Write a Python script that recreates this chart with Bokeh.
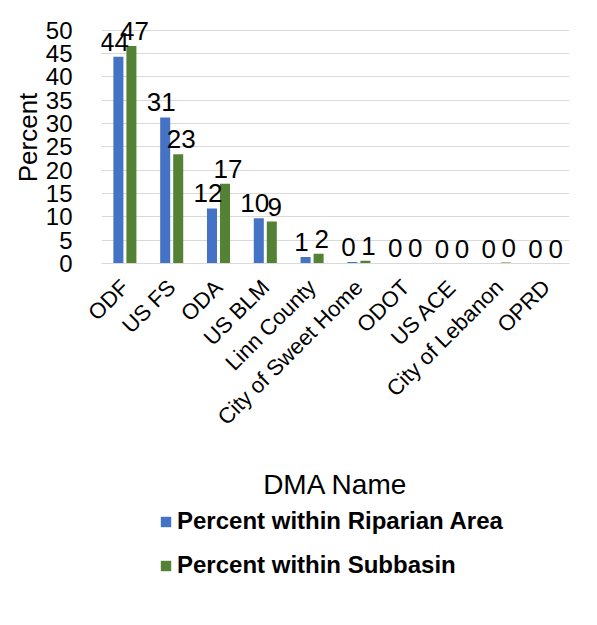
from bokeh.plotting import figure
from bokeh.models import ColumnDataSource, Range1d, FixedTicker, Legend, LegendItem
from bokeh.core.properties import value
from bokeh.transform import dodge
from bokeh.layouts import column
from bokeh.embed import file_html
from bokeh.resources import INLINE
from math import pi

categories = ["ODF", "US FS", "ODA", "US BLM", "Linn County", "City of Sweet Home",
              "ODOT", "US ACE", "City of Lebanon", "OPRD"]
riparian = [44.3, 31.3, 11.8, 9.7, 1.4, 0.3, 0.1, 0.0, 0.0, 0.0]
subbasin = [46.6, 23.4, 17.1, 9.0, 2.1, 0.6, 0.1, 0.0, 0.2, 0.0]
y_ticks = [0, 5, 10, 15, 20, 25, 30, 35, 40, 45, 50]
series_names = ["Percent within Riparian Area", "Percent within Subbasin"]

src = ColumnDataSource(dict(
    cat=categories, rip=riparian, sub=subbasin,
    rip_lbl=[f"{v:.0f}" for v in riparian],
    sub_lbl=[f"{v:.0f}" for v in subbasin],
))

FONT = "Liberation Sans"
BLUE = "#4472C4"
GREEN = "#548235"
W_LEFT, W_FRAME, W_RIGHT = 101, 468, 10

p = figure(x_range=categories, y_range=Range1d(0, 54),
           frame_width=W_FRAME, frame_height=252,
           min_border_left=W_LEFT, min_border_right=W_RIGHT, min_border_top=11,
           min_border_bottom=235,
           output_backend="svg", toolbar_location=None)
p.outline_line_color = None

p.vbar(x=dodge("cat", -0.139, range=p.x_range), top="rip", width=0.214,
       source=src, color=BLUE, line_color=None)
p.vbar(x=dodge("cat", 0.139, range=p.x_range), top="sub", width=0.214,
       source=src, color=GREEN, line_color=None)

p.text(x=dodge("cat", -0.139, range=p.x_range), y="rip", text="rip_lbl", source=src,
       text_font=value(FONT), text_font_size="26px", text_color="#000000",
       text_align="center", text_baseline="alphabetic", x_offset=-4, y_offset=-15)
p.text(x=dodge("cat", 0.139, range=p.x_range), y="sub", text="sub_lbl", source=src,
       text_font=value(FONT), text_font_size="26px", text_color="#000000",
       text_align="center", text_baseline="alphabetic", x_offset=3, y_offset=-15)

p.xgrid.grid_line_color = None
p.ygrid.grid_line_color = "#d9d9d9"
p.ygrid.grid_line_width = 1

p.yaxis.ticker = FixedTicker(ticks=y_ticks)
p.yaxis.axis_line_color = None
p.yaxis.major_tick_line_color = None
p.yaxis.minor_tick_line_color = None
p.yaxis.major_label_text_font = FONT
p.yaxis.major_label_text_font_size = "24px"
p.yaxis.major_label_text_color = "#000000"
p.yaxis.major_label_standoff = 23
p.yaxis.axis_label = "Percent"
p.yaxis.axis_label_text_font = FONT
p.yaxis.axis_label_text_font_size = "26px"
p.yaxis.axis_label_text_font_style = "normal"
p.yaxis.axis_label_text_color = "#000000"
p.yaxis.axis_label_standoff = 0

p.xaxis.axis_line_color = "#d9d9d9"
p.xaxis.major_tick_line_color = None
p.xaxis.minor_tick_line_color = None
p.xaxis.major_label_orientation = pi / 4
p.xaxis.major_label_text_font = FONT
p.xaxis.major_label_text_font_size = "22px"
p.xaxis.major_label_text_color = "#000000"
p.xaxis.major_label_standoff = 14
p.xaxis.axis_label = "DMA Name"
p.xaxis.axis_label_text_font = FONT
p.xaxis.axis_label_text_font_size = "28px"
p.xaxis.axis_label_text_font_style = "normal"
p.xaxis.axis_label_text_color = "#000000"
p.xaxis.axis_label_standoff = 27

# legend panel below the chart (its frame is aligned with the chart's frame)
p2 = figure(width=W_LEFT + W_FRAME + W_RIGHT, height=110,
            x_range=Range1d(0, 1), y_range=Range1d(0, 1),
            x_axis_location=None, y_axis_location=None, min_border=0,
            output_backend="svg", toolbar_location=None)
p2.outline_line_color = None
p2.grid.visible = False
p2.background_fill_color = None
p2.border_fill_color = None
lr1 = p2.vbar(x=[-5], top=[0], width=0.1, color=BLUE, line_color=None)
lr2 = p2.vbar(x=[-5], top=[0], width=0.1, color=GREEN, line_color=None)

legend = Legend(items=[LegendItem(label=series_names[0], renderers=[lr1]),
                       LegendItem(label=series_names[1], renderers=[lr2])],
                orientation="vertical", location=(58, 33))
legend.label_text_font = FONT
legend.label_text_font_size = "24px"
legend.label_text_font_style = "bold"
legend.label_text_color = "#000000"
legend.label_height = 26
legend.glyph_width = 13
legend.glyph_height = 13
legend.label_standoff = 5
legend.spacing = 16
legend.padding = 4
legend.margin = 0
legend.border_line_color = None
legend.background_fill_alpha = 0
p2.add_layout(legend, "center")

open("out.html", "w").write(file_html(column(p, p2), INLINE))
